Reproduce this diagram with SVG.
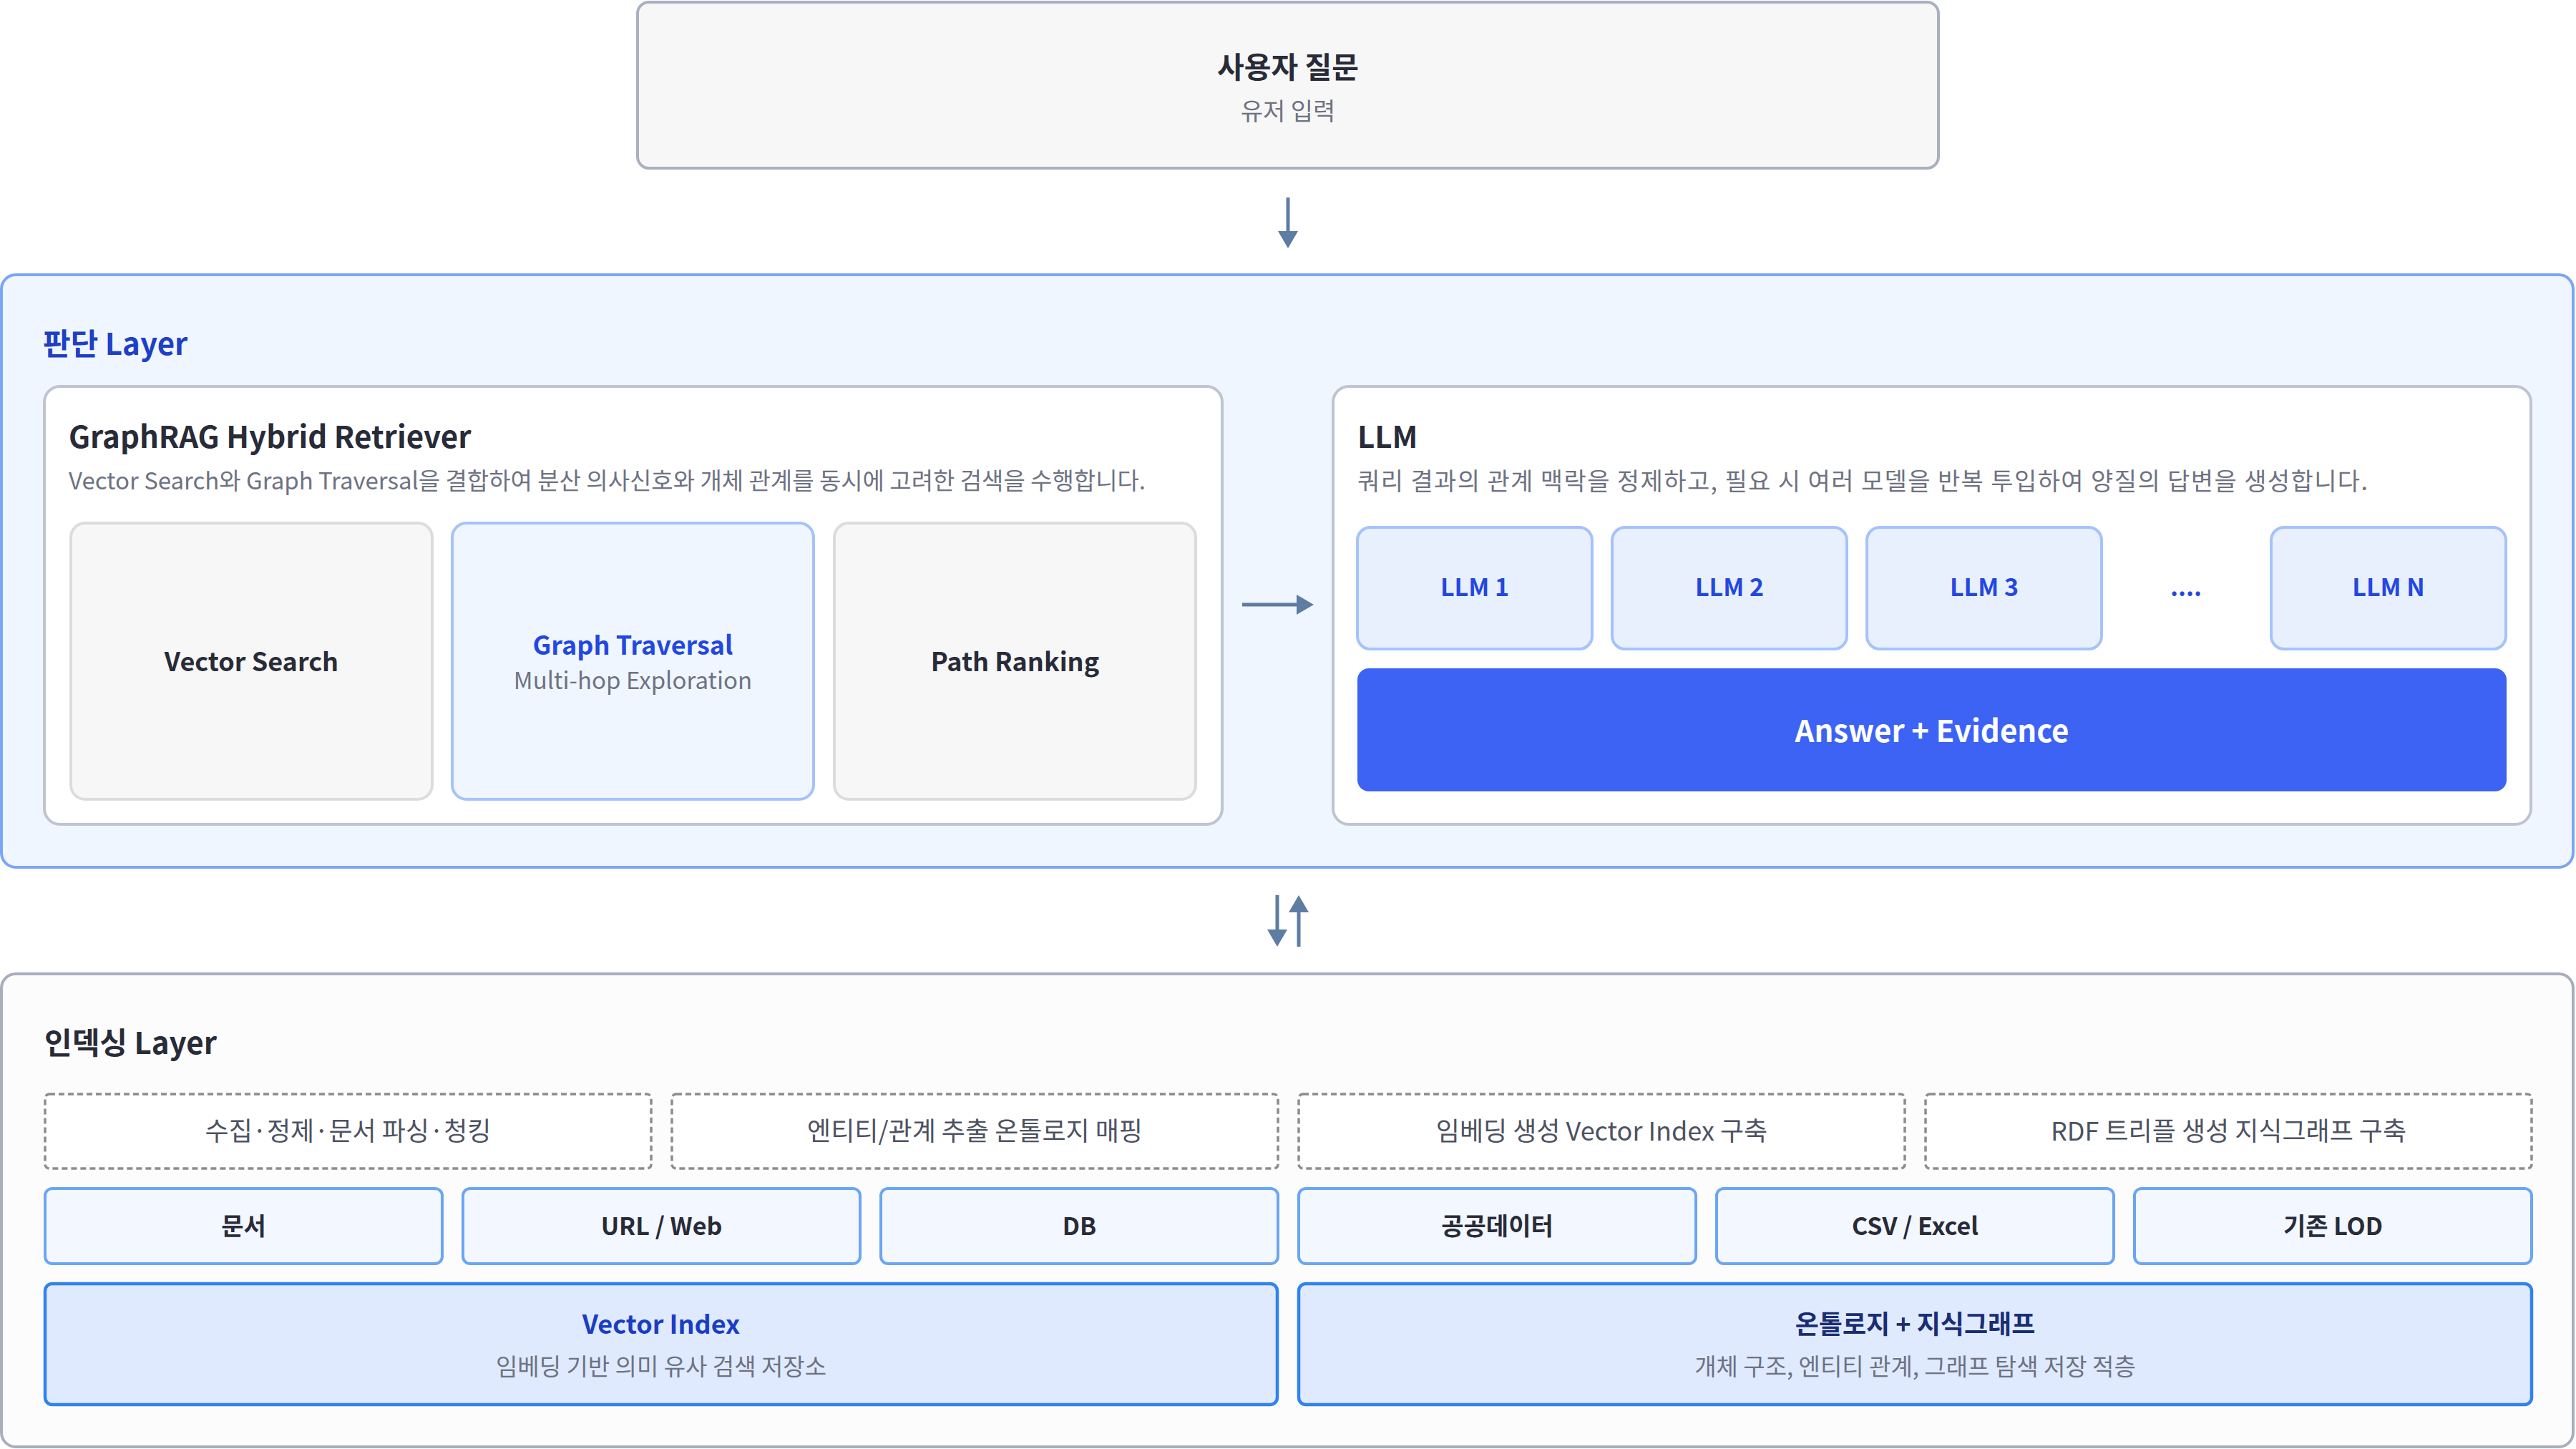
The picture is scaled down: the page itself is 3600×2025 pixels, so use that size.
<svg xmlns="http://www.w3.org/2000/svg" width="3600" height="2025" viewBox="0 0 3600 2025">
<style>
text{font-family:"Noto Sans CJK KR","Noto Sans",sans-serif}
.c{text-anchor:middle}
.b{font-weight:700}
.dark{fill:#282b38}
.grey{fill:#6e7282}
.mid{fill:#4d5262}
.blue{fill:#2347e2}
.card{fill:#ffffff;stroke:#bec4d1;stroke-width:4}
.plain{fill:#f7f7f7;stroke:#dcdcdc;stroke-width:4}
.llm{fill:#e8effd;stroke:#a5c3fb;stroke-width:4}
.dash{fill:#ffffff;stroke:#8c8c8c;stroke-width:3.5;stroke-dasharray:8 5}
.src{fill:#f3f7ff;stroke:#6ba5f5;stroke-width:4}
.idx{fill:#dfeafe;stroke:#3182ee;stroke-width:4.5}
.conn{stroke:#5f7ca2;stroke-width:5;fill:none}
</style>
<defs>
<marker id="ah" markerUnits="userSpaceOnUse" markerWidth="24" markerHeight="28" refX="0" refY="14" orient="auto">
<path d="M0,0 L24,14 L0,28 Z" fill="#5f7ca2"/>
</marker>
</defs>
<rect width="3600" height="2025" fill="#ffffff"/>

<g id="user-question">
<rect x="891" y="3" width="1818" height="232" rx="16" fill="#f7f7f7" stroke="#aab0c0" stroke-width="4"/>
<text x="1800" y="109" class="c b dark" font-size="41">사용자 질문</text>
<text x="1800" y="168" class="c grey" font-size="34">유저 입력</text>
</g>

<g id="judgment-layer">
<rect x="2" y="384" width="3594" height="828" rx="20" fill="#eff6ff" stroke="#7ba6f7" stroke-width="4"/>
<text x="60" y="496" class="b" font-size="42" fill="#1e3fc6">판단 Layer</text>
</g>

<g id="retriever">
<rect x="62" y="540" width="1646" height="612" rx="22" class="card"/>
<text x="96" y="626" class="b dark" font-size="42">GraphRAG Hybrid Retriever</text>
<text x="96" y="684" class="grey" font-size="33" textLength="1505" lengthAdjust="spacing">Vector Search와 Graph Traversal을 결합하여 분산 의사신호와 개체 관계를 동시에 고려한 검색을 수행합니다.</text>
</g>
<g id="vector-search">
<rect x="99" y="731" width="505" height="386" rx="20" class="plain"/>
<text x="351.5" y="938" class="c b dark" font-size="36">Vector Search</text>
</g>
<g id="graph-traversal">
<rect x="632" y="731" width="505" height="386" rx="20" fill="#eff6ff" stroke="#a5c3fa" stroke-width="4"/>
<text x="884.5" y="915" class="c b blue" font-size="36">Graph Traversal</text>
<text x="884.5" y="963" class="c grey" font-size="33">Multi-hop Exploration</text>
</g>
<g id="path-ranking">
<rect x="1166" y="731" width="505" height="386" rx="20" class="plain"/>
<text x="1418.5" y="938" class="c b dark" font-size="36">Path Ranking</text>
</g>

<g id="llm">
<rect x="1863" y="540" width="1674" height="612" rx="22" class="card"/>
<text x="1897" y="626" class="b dark" font-size="42">LLM</text>
<text x="1897" y="685" class="grey" font-size="34" textLength="1412" lengthAdjust="spacing">쿼리 결과의 관계 맥락을 정제하고, 필요 시 여러 모델을 반복 투입하여 양질의 답변을 생성합니다.</text>
</g>
<g id="llm-1">
<rect x="1897" y="737" width="328" height="170" rx="18" class="llm"/>
<text x="2061" y="833" class="c b blue" font-size="34">LLM 1</text>
</g>
<g id="llm-2">
<rect x="2253" y="737" width="328" height="170" rx="18" class="llm"/>
<text x="2417" y="833" class="c b blue" font-size="34">LLM 2</text>
</g>
<g id="llm-3">
<rect x="2609" y="737" width="328" height="170" rx="18" class="llm"/>
<text x="2773" y="833" class="c b blue" font-size="34">LLM 3</text>
</g>
<g id="llm-dots">
<text x="3055" y="833" class="c b blue" font-size="34">....</text>
</g>
<g id="llm-n">
<rect x="3174" y="737" width="328" height="170" rx="18" class="llm"/>
<text x="3338" y="833" class="c b blue" font-size="34">LLM N</text>
</g>
<g id="answer">
<rect x="1897" y="934" width="1606" height="172" rx="16" fill="#3d63f5"/>
<text x="2700" y="1037" class="c b" font-size="42" fill="#ffffff">Answer + Evidence</text>
</g>

<g id="indexing-layer">
<rect x="2" y="1361" width="3594" height="661" rx="20" fill="#fcfcfc" stroke="#a9aebd" stroke-width="4"/>
<text x="62" y="1473" class="b dark" font-size="42">인덱싱 Layer</text>
</g>

<g id="step-1">
<rect x="63" y="1529" width="847" height="104" rx="6" class="dash"/>
<text x="486.5" y="1594" class="c mid" font-size="36">수집·정제·문서 파싱·청킹</text>
</g>
<g id="step-2">
<rect x="939" y="1529" width="847" height="104" rx="6" class="dash"/>
<text x="1362.5" y="1594" class="c mid" font-size="36">엔티티/관계 추출 온톨로지 매핑</text>
</g>
<g id="step-3">
<rect x="1815" y="1529" width="847" height="104" rx="6" class="dash"/>
<text x="2238.5" y="1594" class="c mid" font-size="36">임베딩 생성 Vector Index 구축</text>
</g>
<g id="step-4">
<rect x="2691" y="1529" width="847" height="104" rx="6" class="dash"/>
<text x="3114.5" y="1594" class="c mid" font-size="36">RDF 트리플 생성 지식그래프 구축</text>
</g>

<g id="src-doc">
<rect x="63" y="1661" width="555" height="105" rx="10" class="src"/>
<text x="340.5" y="1726" class="c b dark" font-size="34">문서</text>
</g>
<g id="src-url">
<rect x="647" y="1661" width="555" height="105" rx="10" class="src"/>
<text x="924.5" y="1726" class="c b dark" font-size="34">URL / Web</text>
</g>
<g id="src-db">
<rect x="1231" y="1661" width="555" height="105" rx="10" class="src"/>
<text x="1508.5" y="1726" class="c b dark" font-size="34">DB</text>
</g>
<g id="src-public">
<rect x="1815" y="1661" width="555" height="105" rx="10" class="src"/>
<text x="2092.5" y="1726" class="c b dark" font-size="34">공공데이터</text>
</g>
<g id="src-csv">
<rect x="2399" y="1661" width="555" height="105" rx="10" class="src"/>
<text x="2676.5" y="1726" class="c b dark" font-size="34">CSV / Excel</text>
</g>
<g id="src-lod">
<rect x="2983" y="1661" width="555" height="105" rx="10" class="src"/>
<text x="3260.5" y="1726" class="c b dark" font-size="34">기존 LOD</text>
</g>

<g id="vector-index">
<rect x="63" y="1794" width="1722" height="169" rx="10" class="idx"/>
<text x="924" y="1864" class="c b" font-size="36" fill="#1a3dc4">Vector Index</text>
<text x="924" y="1922" class="c grey" font-size="33">임베딩 기반 의미 유사 검색 저장소</text>
</g>
<g id="ontology-kg">
<rect x="1815" y="1794" width="1723" height="169" rx="10" class="idx"/>
<text x="2676.5" y="1864" class="c b" font-size="36" fill="#1a2d74">온톨로지 + 지식그래프</text>
<text x="2676.5" y="1922" class="c grey" font-size="33">개체 구조, 엔티티 관계, 그래프 탐색 저장 적층</text>
</g>

<g id="connectors">
<line x1="1800" y1="276" x2="1800" y2="323" class="conn" marker-end="url(#ah)"/>
<line x1="1736" y1="845" x2="1812" y2="845" class="conn" marker-end="url(#ah)"/>
<line x1="1785" y1="1251" x2="1785" y2="1299" class="conn" marker-end="url(#ah)"/>
<line x1="1815" y1="1323" x2="1815" y2="1275" class="conn" marker-end="url(#ah)"/>
</g>
</svg>
